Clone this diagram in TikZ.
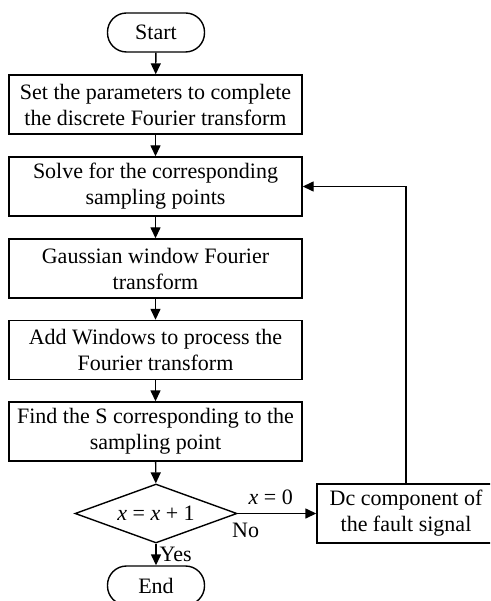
\documentclass[tikz,border=0pt]{standalone}
\usepackage{fontspec}
\setmainfont{Liberation Serif}
\usetikzlibrary{shapes.geometric,arrows.meta}
\tikzset{
  box/.style={draw, line width=1.4pt, minimum width=293pt, minimum height=59pt, align=center, inner sep=0pt},
  term/.style={draw, line width=1.4pt, rounded corners=19pt, minimum width=97pt, minimum height=39pt},
  test/.style={draw, diamond, line width=1.4pt, minimum width=162pt, minimum height=59pt, inner sep=0pt, aspect=2.75},
  line/.style={line width=1.4pt, -{Triangle[length=11pt,width=10pt]}}
}
\begin{document}
\begin{tikzpicture}[x=1pt, y=-1pt, font=\fontsize{22}{26}\selectfont]
\useasboundingbox (0,0) rectangle (490,601);
\clip (0,0) rectangle (490,601);
% main column
\node[term] (start) at (156,32.5) {Start};
\node[box] (param) at (155.5,104.5) {Set the parameters to complete\\the discrete Fourier transform};
\node[box] (solve) at (155.5,186.5) {Solve for the corresponding\\sampling points};
\node[box] (gauss) at (155.5,268.5) {Gaussian window Fourier\\transform};
\node[box] (window) at (155.5,350) {Add Windows to process the\\Fourier transform};
\node[box] (findS) at (155.5,431.5) {Find the S corresponding to the\\sampling point};
\node[test] (count) at (156,513.5) {\textit{x} = \textit{x} + 1};
\node[term] (end) at (156,585.5) {End};
% side branch
\node[box, minimum width=178pt] (dc) at (406,513.5) {Dc component of\\the fault signal};
\draw[line] (start) -- (param);
\draw[line] (param) -- (solve);
\draw[line] (solve) -- (gauss);
\draw[line] (gauss) -- (window);
\draw[line] (window) -- (findS);
\draw[line] (findS) -- (count);
\draw[line] (count) -- node[pos=0.5, right, inner sep=3pt] (yes) {Yes} (end);
\draw[line] (count.east) -- node[pos=0.42, above, inner sep=8pt] (xzero) {\textit{x} = 0}
  node[pos=0.1, below, inner sep=9pt] (no) {No} (dc.west);
\draw[line] (dc.north) |- (solve.east);
\end{tikzpicture}
\end{document}
